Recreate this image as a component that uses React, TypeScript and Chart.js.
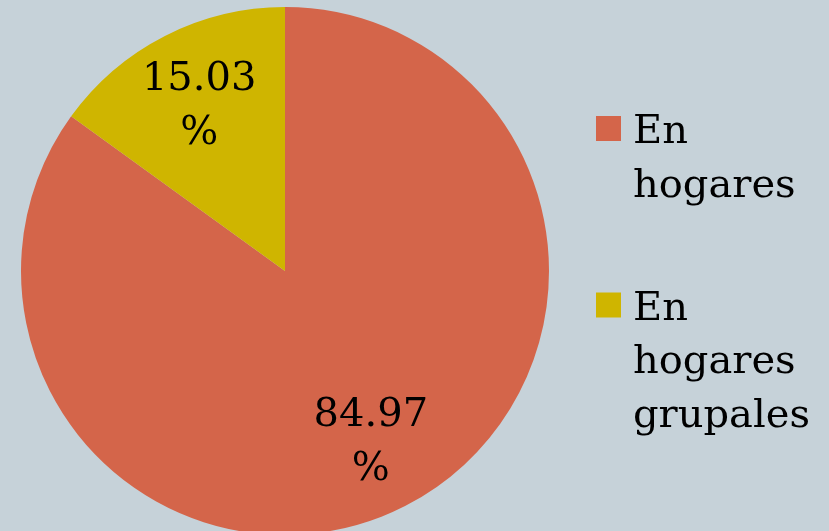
import React, { useEffect, useRef } from "react";
import { Chart, registerables } from "chart.js";

Chart.register(...registerables);

const categories: string[][] = [["En", "hogares"], ["En", "hogares", "grupales"]];
const values: number[] = [84.97, 15.03];
const colors: string[] = ["#d4654a", "#cfb500"];
const background = "#c6d2d9";
const fontFamily = "'DejaVu Serif', Georgia, serif";

const sliceLabels = {
  id: "sliceLabels",
  afterDatasetsDraw(chart: any) {
    const ctx = chart.ctx;
    const meta = chart.getDatasetMeta(0);
    ctx.save();
    ctx.font = `40px ${fontFamily}`;
    ctx.fillStyle = "#000";
    ctx.textAlign = "center";
    ctx.textBaseline = "alphabetic";
    meta.data.forEach((arc: any, i: number) => {
      const p = arc.getProps(["x", "y", "startAngle", "endAngle", "outerRadius"], true);
      const mid = (p.startAngle + p.endAngle) / 2;
      const r = p.outerRadius * 0.715;
      const cx = p.x + Math.cos(mid) * r;
      const cy = p.y + Math.sin(mid) * r;
      const lines = [values[i].toFixed(2), "%"];
      const lh = 54;
      const firstBase = cy - lh / 2 + 14 - (lines.length - 2) * lh / 2;
      lines.forEach((t, k) => ctx.fillText(t, cx, firstBase + k * lh - 0));
    });
    ctx.restore();
  },
};

const sideLegend = {
  id: "sideLegend",
  afterDraw(chart: any) {
    const ctx = chart.ctx;
    const area = chart.chartArea;
    const x0 = area.right + 47;
    const lh = 53.5;
    let base = 143;
    ctx.save();
    ctx.font = `40px ${fontFamily}`;
    ctx.textAlign = "left";
    ctx.textBaseline = "alphabetic";
    (chart.data.labels as string[][]).forEach((lines, i) => {
      ctx.fillStyle = colors[i];
      ctx.fillRect(x0, base - 27, 25, 25);
      ctx.fillStyle = "#000";
      lines.forEach((t, k) => ctx.fillText(t, x0 + 37, base + k * lh));
      base += (lines.length - 1) * lh + 123;
    });
    ctx.restore();
  },
};

export default function App() {
  const ref = useRef<HTMLCanvasElement | null>(null);
  useEffect(() => {
    if (!ref.current) return;
    const chart = new Chart(ref.current, {
      type: "pie",
      data: {
        labels: categories as any,
        datasets: [
          {
            data: values,
            backgroundColor: colors,
            borderWidth: 0,
          },
        ],
      },
      options: {
        animation: false,
        responsive: true,
        maintainAspectRatio: false,
        layout: { padding: { top: 7, bottom: 10, left: 21, right: 280 } },
        plugins: {
          legend: { display: false },
          tooltip: { enabled: false },
        },
      },
      plugins: [sliceLabels, sideLegend],
    });
    return () => chart.destroy();
  }, []);
  return (
    <div
      style={{
        position: "fixed",
        left: 0,
        top: 0,
        width: 829,
        height: 531,
        overflow: "hidden",
        background,
      }}
    >
      <div style={{ position: "relative", width: 829, height: 545 }}>
        <canvas ref={ref} />
      </div>
    </div>
  );
}
